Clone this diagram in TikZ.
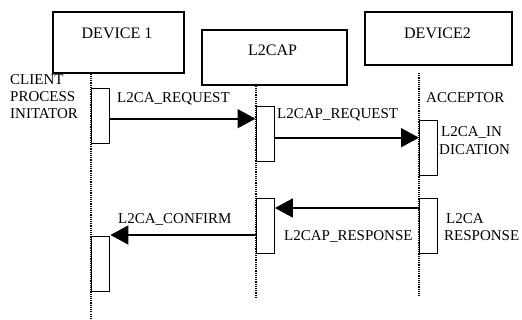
\documentclass[tikz,border=0pt]{standalone}
\usepackage{fontspec}
\setmainfont{Liberation Serif}
\usetikzlibrary{arrows.meta}
\begin{document}
\begin{tikzpicture}[x=1pt,y=-1pt,
  actor/.style={draw,line width=1.4pt,minimum width=#1,minimum height=55pt,inner sep=0pt,font=\fontsize{16}{18}\selectfont,text depth=0pt},
  actbox/.style={draw,fill=white,line width=1.4pt,minimum width=18pt,minimum height=55pt,inner sep=0pt,anchor=north west},
  life/.style={line width=1.2pt,densely dotted},
  msg/.style={line width=1.7pt,-{Triangle[length=18pt,width=19pt]}},
  lbl/.style={font=\fontsize{15}{17}\selectfont,anchor=base west,inner sep=0pt}]
\useasboundingbox (0,0) rectangle (522,320);
% header boxes
\node[actor=131pt,minimum height=61pt] (dev1) at (118.5,42.5) {};
\node[actor=145pt] (l2cap) at (274.5,57.5) {};
\node[actor=147pt,minimum height=53pt] (dev2) at (438.5,38.5) {};
\node[font=\fontsize{16}{18}\selectfont,anchor=base,inner sep=0pt] (t1) at (117,39) {DEVICE 1};
\node[font=\fontsize{16}{18}\selectfont,anchor=base,inner sep=0pt] (t2) at (272.5,56) {L2CAP};
\node[font=\fontsize{16}{18}\selectfont,anchor=base,inner sep=0pt] (t3) at (437.5,39) {DEVICE2};
% lifelines
\coordinate (l1b) at (91,318);
\coordinate (l2b) at (256,297);
\coordinate (l3t) at (419,73);
\coordinate (l3b) at (419,297);
\draw[life] (dev1.south -| l1b) -- (l1b);
\draw[life] (l2cap.south -| l2b) -- (l2b);
\draw[life] (l3t) -- (l3b);
% activation boxes
\node[actbox] (d1a) at (91,88) {};
\node[actbox] (l2a) at (255.5,106) {};
\node[actbox] (d2a) at (419,120) {};
\node[actbox] (d2b) at (419,198) {};
\node[actbox] (l2x) at (255.5,198) {};
\node[actbox] (d1b) at (91,236) {};
% messages
\draw[msg] ([yshift=-2.5pt]d1a.east) -- ([yshift=-2.5pt]d1a.east -| l2a.west);
\draw[msg] ([yshift=-3.5pt]l2a.east) -- ([yshift=-3.5pt]l2a.east -| d2a.west);
\draw[msg] ([yshift=-10pt]d2b.north west) -- ([yshift=-10pt]d2b.north west -| l2x.east);
\draw[msg] ([yshift=-37pt]l2x.north west) -- ([yshift=-37pt]l2x.north west -| d1b.east);
% labels
\node[lbl] (c1) at (10,85) {CLIENT};
\node[lbl] (c2) at (10,102) {PROCESS};
\node[lbl] (c3) at (10,119) {INITATOR};
\node[lbl] (m1) at (117,103) {L2CA\_REQUEST};
\node[lbl] (m2) at (277,119) {L2CAP\_REQUEST};
\node[lbl] (acc) at (426,103) {ACCEPTOR};
\node[lbl] (i1) at (441,137) {L2CA\_IN};
\node[lbl] (i2) at (439,155) {DICATION};
\node[lbl] (r1) at (446,224) {L2CA};
\node[lbl] (r2) at (444,241) {RESPONSE};
\node[lbl] (m3) at (284,241) {L2CAP\_RESPONSE};
\node[lbl] (m4) at (118,224) {L2CA\_CONFIRM};
\end{tikzpicture}
\end{document}
